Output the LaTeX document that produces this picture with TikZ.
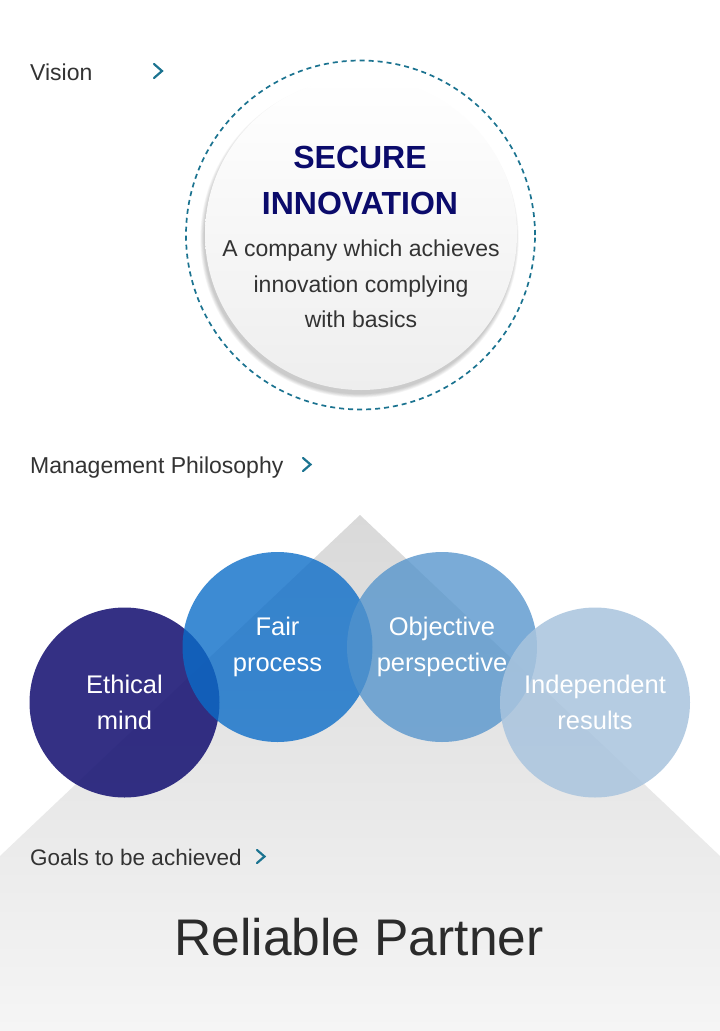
\documentclass[tikz,border=0pt]{standalone}
\usepackage{fontspec}
\setmainfont{Liberation Sans}
\definecolor{tealc}{HTML}{1B7390}
\definecolor{navyt}{HTML}{0B0B6B}
\definecolor{darktxt}{HTML}{333333}
\definecolor{bgtop}{HTML}{D9D9D9}
\definecolor{bgbot}{HTML}{F5F5F5}
\definecolor{innerbot}{HTML}{EEEEEE}
\definecolor{ethc}{HTML}{1E1A77}
\definecolor{fairc}{HTML}{0A6CC8}
\definecolor{objc}{HTML}{5293CC}
\definecolor{indc}{HTML}{A9C4DE}
\tikzset{
  seclabel/.style={anchor=base west, inner sep=0pt, text=darktxt, font=\fontsize{23}{28}\selectfont},
  chev/.style={draw=tealc, line width=2.2pt, line cap=round, line join=miter},
  bub/.style={circle, minimum size=190pt, inner sep=0pt, draw=none},
  bublab/.style={align=center, inner sep=0pt, text=white, text opacity=1, font=\fontsize{25.5}{35.5}\selectfont},
  bodyline/.style={anchor=base, inner sep=0pt, text=darktxt, font=\fontsize{23}{28}\selectfont},
  titleline/.style={anchor=base, inner sep=0pt, text=navyt, font=\bfseries\fontsize{32}{40}\selectfont}
}
\begin{document}
\begin{tikzpicture}[x=1pt,y=-1pt]
\useasboundingbox (0,0) rectangle (720,1031);
\fill[white] (0,0) rectangle (720,1031);
% background pyramid
\coordinate (apex) at (360,515);
\shade[top color=bgtop, bottom color=bgbot] (0,1031) -- (0,856) -- (apex) -- (720,856) -- (720,1031) -- cycle;

% Vision
\node[seclabel] (vision) at (30,80) {Vision};
\draw[chev] (154,64) -- (162,71) -- (154,78);

\node[circle, draw=tealc, dash pattern=on 5pt off 4pt, line width=1.7pt, minimum size=349pt, inner sep=0pt] (outer) at (360.5,235) {};
\foreach \k in {1,...,6}{
  \fill[black, opacity=0.035] (359.5,238.5) circle ({155pt+\k*0.7pt});
}
\node[circle, minimum size=312pt, inner sep=0pt, top color=white, bottom color=innerbot] (inner) at (361,234) {};
\node[titleline] (t1) at (360,168.5) {SECURE};
\node[titleline] (t2) at (360,214.5) {INNOVATION};
\node[bodyline] (b1) at (361,256) {A company which achieves};
\node[bodyline] (b2) at (361,292) {innovation complying};
\node[bodyline] (b3) at (361,327.5) {with basics};

% Management Philosophy
\node[seclabel] (mgmt) at (30,473) {Management Philosophy};
\draw[chev] (303,458) -- (310.5,464.5) -- (303,471);

\node[bub, fill=ethc, fill opacity=0.9] (eth) at (124.5,702.5) {};
\node[bub, fill=fairc, fill opacity=0.79] (fair) at (277.5,647) {};
\node[bub, fill=objc, fill opacity=0.77] (obj) at (442,647) {};
\node[bub, fill=indc, fill opacity=0.85] (ind) at (595,702.5) {};
\node[bublab] (ethT) at (eth.center) {Ethical\\mind};
\node[bublab] (fairT) at (fair.center) {Fair\\process};
\node[bublab] (objT) at (obj.center) {Objective\\perspective};
\node[bublab] (indT) at (ind.center) {Independent\\results};

% Goals
\node[seclabel, font=\fontsize{22.5}{28}\selectfont] (goals) at (30,865) {Goals to be achieved};
\draw[chev] (257,850) -- (264.5,856.5) -- (257,863);
\node[anchor=base, inner sep=0pt, text=black!83, font=\fontsize{51.5}{60}\selectfont] (partner) at (359,955) {Reliable Partner};
\end{tikzpicture}
\end{document}
